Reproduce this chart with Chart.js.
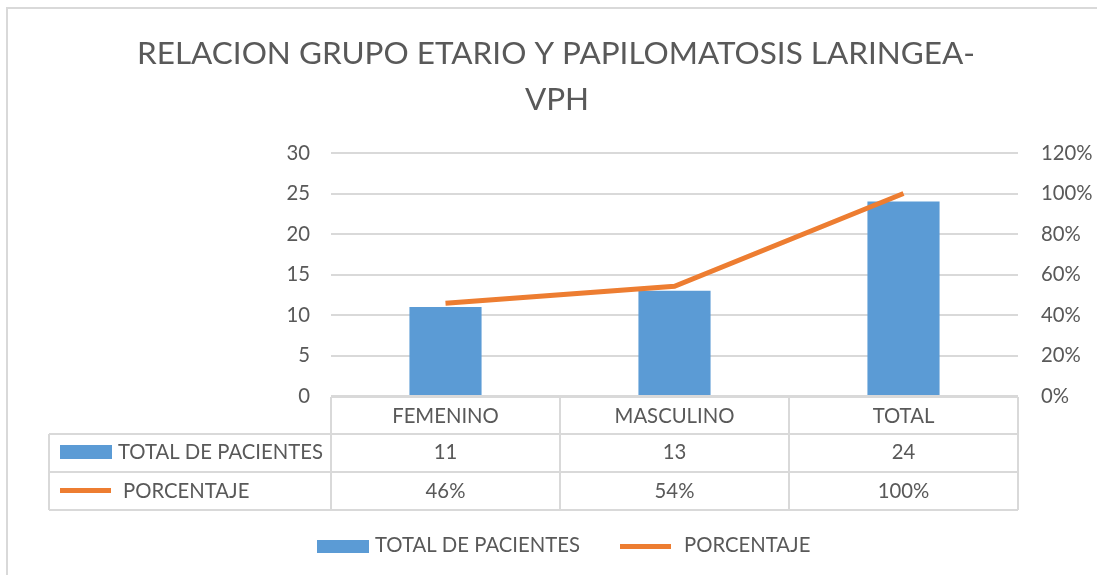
<!DOCTYPE html>
<html>
<head>
<meta charset="utf-8">
<script src="https://cdn.jsdelivr.net/npm/chart.js@4.4.1/dist/chart.umd.min.js"></script>
<style>
html,body{margin:0;padding:0;background:#fff;}
#wrap{width:1097px;height:575px;position:relative;}
</style>
</head>
<body>
<div id="wrap"><canvas id="c" width="1097" height="575"></canvas></div>
<script>
// ---- data ----
const titleLines = ['RELACION GRUPO ETARIO Y PAPILOMATOSIS LARINGEA-', 'VPH'];
const categories = ['FEMENINO', 'MASCULINO', 'TOTAL'];
const seriesNames = ['TOTAL DE PACIENTES', 'PORCENTAJE'];
const pacientes = [11, 13, 24];
const porcentaje = [45.8, 54.2, 100];
const porcentajeLabels = ['46%', '54%', '100%'];
const leftTicks = [0, 5, 10, 15, 20, 25, 30];
const rightTicks = [0, 20, 40, 60, 80, 100, 120];

// ---- style ----
const BLUE = '#5B9BD5', ORANGE = '#ED7D31', TXT = '#595959', GRID = '#d9d9d9';
const FAM = 'Lato, "Open Sans", sans-serif';

const mctx = document.createElement('canvas').getContext('2d');
function fitSize(text, weight, width) {
  mctx.font = weight + ' 100px ' + FAM;
  return 100 * width / mctx.measureText(text).width;
}
const bodySize = fitSize(seriesNames[0], 'normal', 205);
const titleSize = fitSize(titleLines[0], 'normal', 838);

const tablePlugin = {
  id: 'tablePlugin',
  afterDraw(chart) {
    const ctx = chart.ctx;
    const x = chart.scales.x;
    const area = chart.chartArea;
    ctx.save();
    // outer border
    ctx.strokeStyle = GRID; ctx.lineWidth = 2;
    ctx.strokeRect(7, 8, 1200, 700);

    // title
    ctx.fillStyle = TXT;
    ctx.textAlign = 'center';
    ctx.textBaseline = 'alphabetic';
    ctx.font = 'normal ' + titleSize + 'px ' + FAM;
    ctx.fillText(titleLines[0], 556, 64);
    ctx.fillText(titleLines[1], 557, 110);

    // data table
    const colW = (area.right - area.left) / categories.length;
    const rows = [397, 434, 472, 510];
    const tableLeft = 49;
    ctx.strokeStyle = GRID; ctx.lineWidth = 2;
    ctx.beginPath();
    ctx.moveTo(area.left, rows[0]); ctx.lineTo(area.right, rows[0]);
    for (let r = 1; r < rows.length; r++) {
      ctx.moveTo(tableLeft, rows[r]); ctx.lineTo(area.right, rows[r]);
    }
    ctx.moveTo(tableLeft, rows[1]); ctx.lineTo(tableLeft, rows[3]);
    for (let i = 0; i <= categories.length; i++) {
      const cx = area.left + colW * i;
      ctx.moveTo(cx, rows[0]); ctx.lineTo(cx, rows[3]);
    }
    ctx.stroke();

    ctx.fillStyle = TXT;
    ctx.font = bodySize + 'px ' + FAM;
    ctx.textAlign = 'center';
    categories.forEach((c, i) => {
      const cx = x.getPixelForValue(i);
      ctx.fillText(c, cx, 423);
      ctx.fillText(String(pacientes[i]), cx, 459);
      ctx.fillText(porcentajeLabels[i], cx, 498);
    });
    // row headers
    ctx.textAlign = 'left';
    ctx.fillStyle = BLUE;
    ctx.fillRect(60, 445, 52, 14);
    ctx.fillStyle = ORANGE;
    ctx.fillRect(60, 488, 51, 5);
    ctx.fillStyle = TXT;
    ctx.fillText(seriesNames[0], 118, 459);
    ctx.fillText(seriesNames[1], 123, 498);

    // legend
    ctx.fillStyle = BLUE;
    ctx.fillRect(317, 540, 52, 13);
    ctx.fillStyle = ORANGE;
    ctx.fillRect(620, 544, 51, 5);
    ctx.fillStyle = TXT;
    ctx.fillText(seriesNames[0], 375, 552);
    ctx.fillText(seriesNames[1], 684, 552);
    ctx.restore();
  }
};

new Chart(document.getElementById('c'), {
  type: 'bar',
  data: {
    labels: categories,
    datasets: [
      {
        type: 'line', label: seriesNames[1], data: porcentaje, yAxisID: 'y1',
        borderColor: ORANGE, backgroundColor: ORANGE, borderWidth: 5,
        pointRadius: 0, tension: 0, order: 0, borderCapStyle: 'butt'
      },
      {
        type: 'bar', label: seriesNames[0], data: pacientes, yAxisID: 'y',
        backgroundColor: BLUE, categoryPercentage: 1, barPercentage: 0.315, order: 1
      }
    ]
  },
  options: {
    responsive: false,
    animation: false,
    layout: { padding: { top: 153, bottom: 179, left: 0, right: 0 } },
    plugins: { legend: { display: false }, title: { display: false }, tooltip: { enabled: false } },
    scales: {
      x: { display: false, offset: true },
      y: {
        position: 'left', min: leftTicks[0], max: leftTicks[leftTicks.length - 1],
        afterBuildTicks(s) { s.ticks = leftTicks.map(v => ({ value: v })); },
        afterFit(s) { s.width = 331; },
        ticks: { color: TXT, font: { family: FAM, size: bodySize }, padding: 21 },
        grid: { color: GRID, lineWidth: 2, drawTicks: false },
        border: { display: false }
      },
      y1: {
        position: 'right', min: rightTicks[0], max: rightTicks[rightTicks.length - 1],
        afterBuildTicks(s) { s.ticks = rightTicks.map(v => ({ value: v })); },
        afterFit(s) { s.width = 1097 - 1018; },
        ticks: { color: TXT, font: { family: FAM, size: bodySize }, padding: 23, callback: v => v + '%' },
        grid: { drawOnChartArea: false, drawTicks: false },
        border: { display: false }
      }
    }
  },
  plugins: [tablePlugin]
});
</script>
</body>
</html>
